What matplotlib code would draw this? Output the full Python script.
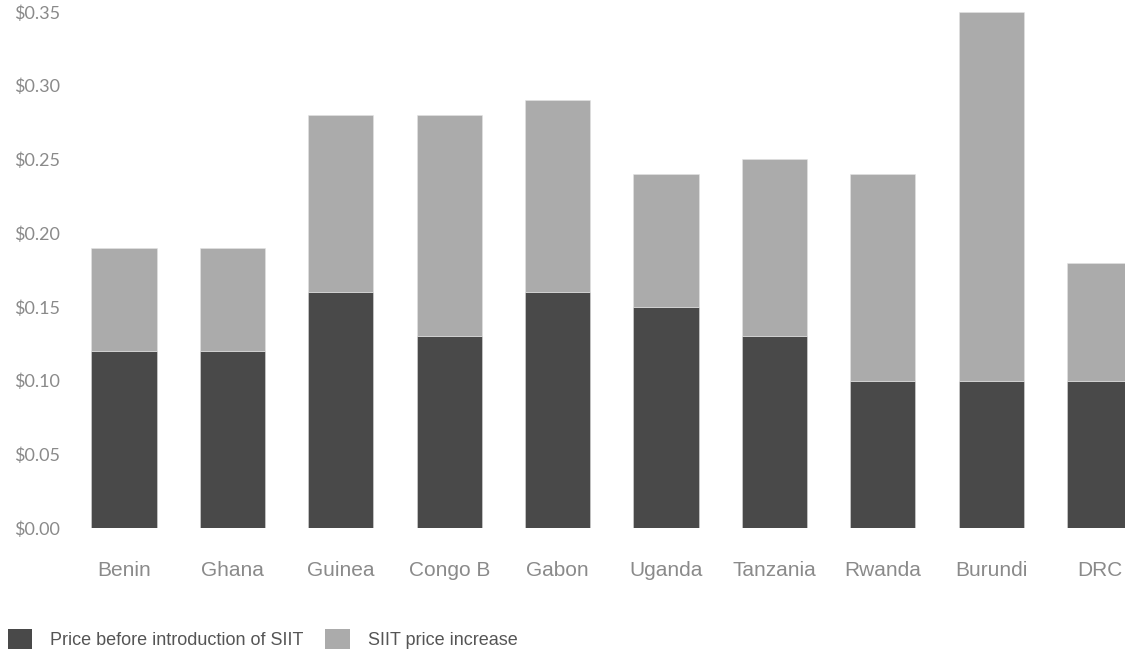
import matplotlib.pyplot as plt
from matplotlib.patches import Patch
import numpy as np

# values
countries = ['Benin', 'Ghana', 'Guinea', 'Congo B', 'Gabon',
             'Uganda', 'Tanzania', 'Rwanda', 'Burundi', 'DRC']
price_before = [0.12, 0.12, 0.16, 0.13, 0.16, 0.15, 0.13, 0.10, 0.10, 0.10]
price_total = [0.19, 0.19, 0.28, 0.28, 0.29, 0.24, 0.25, 0.24, 0.35, 0.18]
siit_increase = [t - b for t, b in zip(price_total, price_before)]

y_ticks = [0.0, 0.05, 0.10, 0.15, 0.20, 0.25, 0.30, 0.35]
y_labels = ['$%.2f' % v for v in y_ticks]

dark = '#494949'
light = '#ababab'
text_grey = '#8a8a8a'

fig = plt.figure(figsize=(11.25, 6.5), dpi=100)
ax = fig.add_axes([75 / 1125, (650 - 528) / 650, 1050 / 1125, 528 / 650])

x = np.arange(len(countries))
ax.bar(x, price_before, width=0.6, color=dark, edgecolor='#d8d8d8', linewidth=0.4)
ax.bar(x, siit_increase, width=0.6, bottom=price_before, color=light,
       edgecolor='#e4e4e4', linewidth=0.4)

ax.set_xlim(-0.452, 9.234)
ax.set_ylim(0, 0.358)

ax.set_xticks(x)
ax.set_xticklabels(countries, family=['Liberation Sans', 'DejaVu Sans'],
                   fontsize=15, color=text_grey)
ax.set_yticks(y_ticks)
ax.set_yticklabels(y_labels, family=['Lato', 'DejaVu Sans'],
                   fontsize=13, color=text_grey)
ax.tick_params(axis='x', length=0, pad=24)
ax.tick_params(axis='y', length=0, pad=11)
for s in ax.spines.values():
    s.set_visible(False)

handles = [Patch(facecolor=dark, edgecolor='none'),
           Patch(facecolor=light, edgecolor='none')]
fig.legend(handles, ['Price before introduction of SIIT', 'SIIT price increase'],
           loc='center left', bbox_to_anchor=(8 / 1125, 11 / 650), ncol=2,
           frameon=False, borderpad=0, borderaxespad=0,
           handlelength=1.35, handleheight=1.35, handletextpad=1.0,
           columnspacing=1.2,
           prop={'family': ['Liberation Sans', 'DejaVu Sans'], 'size': 13})
for t in fig.legends[0].get_texts():
    t.set_color('#555555')

fig.savefig('out.png', dpi=100)
